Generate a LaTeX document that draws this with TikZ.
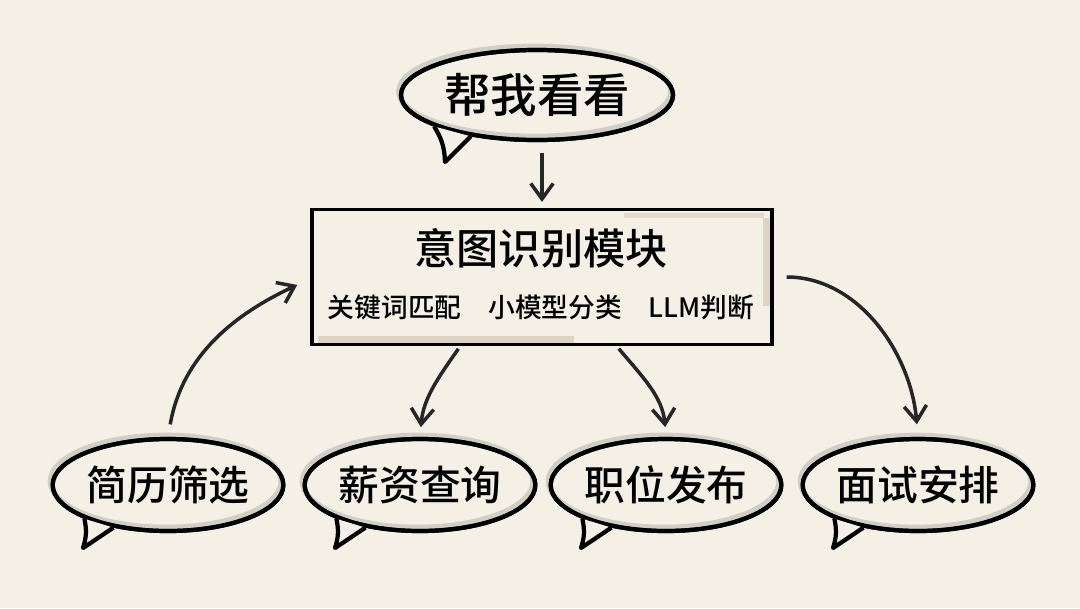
\documentclass[tikz,border=0pt]{standalone}
\usepackage{fontspec}
\setmainfont{Noto Sans CJK SC}[UprightFont=* Medium]
\usetikzlibrary{shapes.geometric,arrows.meta}

\definecolor{paper}{RGB}{244,240,230}
\definecolor{smudge}{RGB}{196,180,150}

\tikzset{
  bubble/.style={ellipse, draw=black, line width=3pt, fill=paper, inner sep=0pt,
    minimum width=5.3cm, minimum height=2.3cm, font=\fontsize{29}{32}\selectfont,
    postaction={draw=black!50, line width=4pt, opacity=0.3, transform canvas={shift={(-1.5pt,2.5pt)}}},
    postaction={draw=black, line width=3pt}},
  flow/.style={-{Straight Barb[length=11pt,width=16pt]}, line width=2.5pt, black!85},
}

% tail of a bubble: node, first angle, second angle, tip offset
\newcommand{\bubbletail}[4]{%
  \fill[paper] (#1.#2) -- ([shift={#4}]#1.center) -- (#1.#3) -- cycle;
  \draw[line width=3pt, line join=round] (#1.#2) to[bend left=15] ([shift={#4}]#1.center) -- (#1.#3);
}

\begin{document}
\begin{tikzpicture}[x=0.025cm, y=-0.025cm]
\fill[paper] (0,0) rectangle (1080,608);
\useasboundingbox (0,0) rectangle (1080,608);

% request
\node[bubble, minimum width=6.8cm, minimum height=2.25cm, font=\fontsize{33}{36}\selectfont] (ask) at (537,95) {帮我看看};
\bubbletail{ask}{197}{212}{(-92,67)}

% module
\node[draw=black, line width=2.8pt, fill=paper, minimum width=11.5cm, minimum height=3.375cm] (mod) at (542,277) {};
\draw[smudge, line width=5pt, opacity=0.45] ([shift={(8,-7)}]mod.south west) -- ([shift={(-200,-7)}]mod.south east);
\draw[smudge, line width=5pt, opacity=0.45] ([shift={(-8,10)}]mod.north east) -- ([shift={(-8,-40)}]mod.south east);
\draw[smudge, line width=4pt, opacity=0.35] ([shift={(-150,8)}]mod.north east) -- ([shift={(-10,8)}]mod.north east);
\node[font=\fontsize{30}{33}\selectfont] (modtitle) at (541,248) {意图识别模块};
\node[font=\fontsize{19}{22}\selectfont] (modsub) at (541,307) {关键词匹配\quad 小模型分类\quad LLM判断};

% intents
\node[bubble] (cv) at (168,485) {简历筛选};
\bubbletail{cv}{202}{218}{(-85,63)}
\node[bubble] (pay) at (420,485) {薪资查询};
\bubbletail{pay}{202}{218}{(-85,63)}
\node[bubble] (job) at (666,485) {职位发布};
\bubbletail{job}{202}{218}{(-85,63)}
\node[bubble] (meet) at (918,485) {面试安排};
\bubbletail{meet}{202}{218}{(-85,63)}

% arrows
\draw[flow, shorten <=8pt, shorten >=4pt] (ask.south -| mod.north) -- (mod.north);
\draw[flow, shorten <=9pt, shorten >=10pt] (cv.north) to[out=80, in=205] (mod.west |- 0,279);
\draw[flow, shorten <=2pt, shorten >=7pt] (mod.south -| 460,0) to[out=235, in=85] (pay.north);
\draw[flow, shorten <=2pt, shorten >=7pt] (mod.south -| 617,0) to[out=-50, in=95] (job.north);
\draw[flow, shorten <=9pt, shorten >=9pt] (mod.east |- 0,277) to[out=0, in=95] (meet.north);
\end{tikzpicture}
\end{document}
